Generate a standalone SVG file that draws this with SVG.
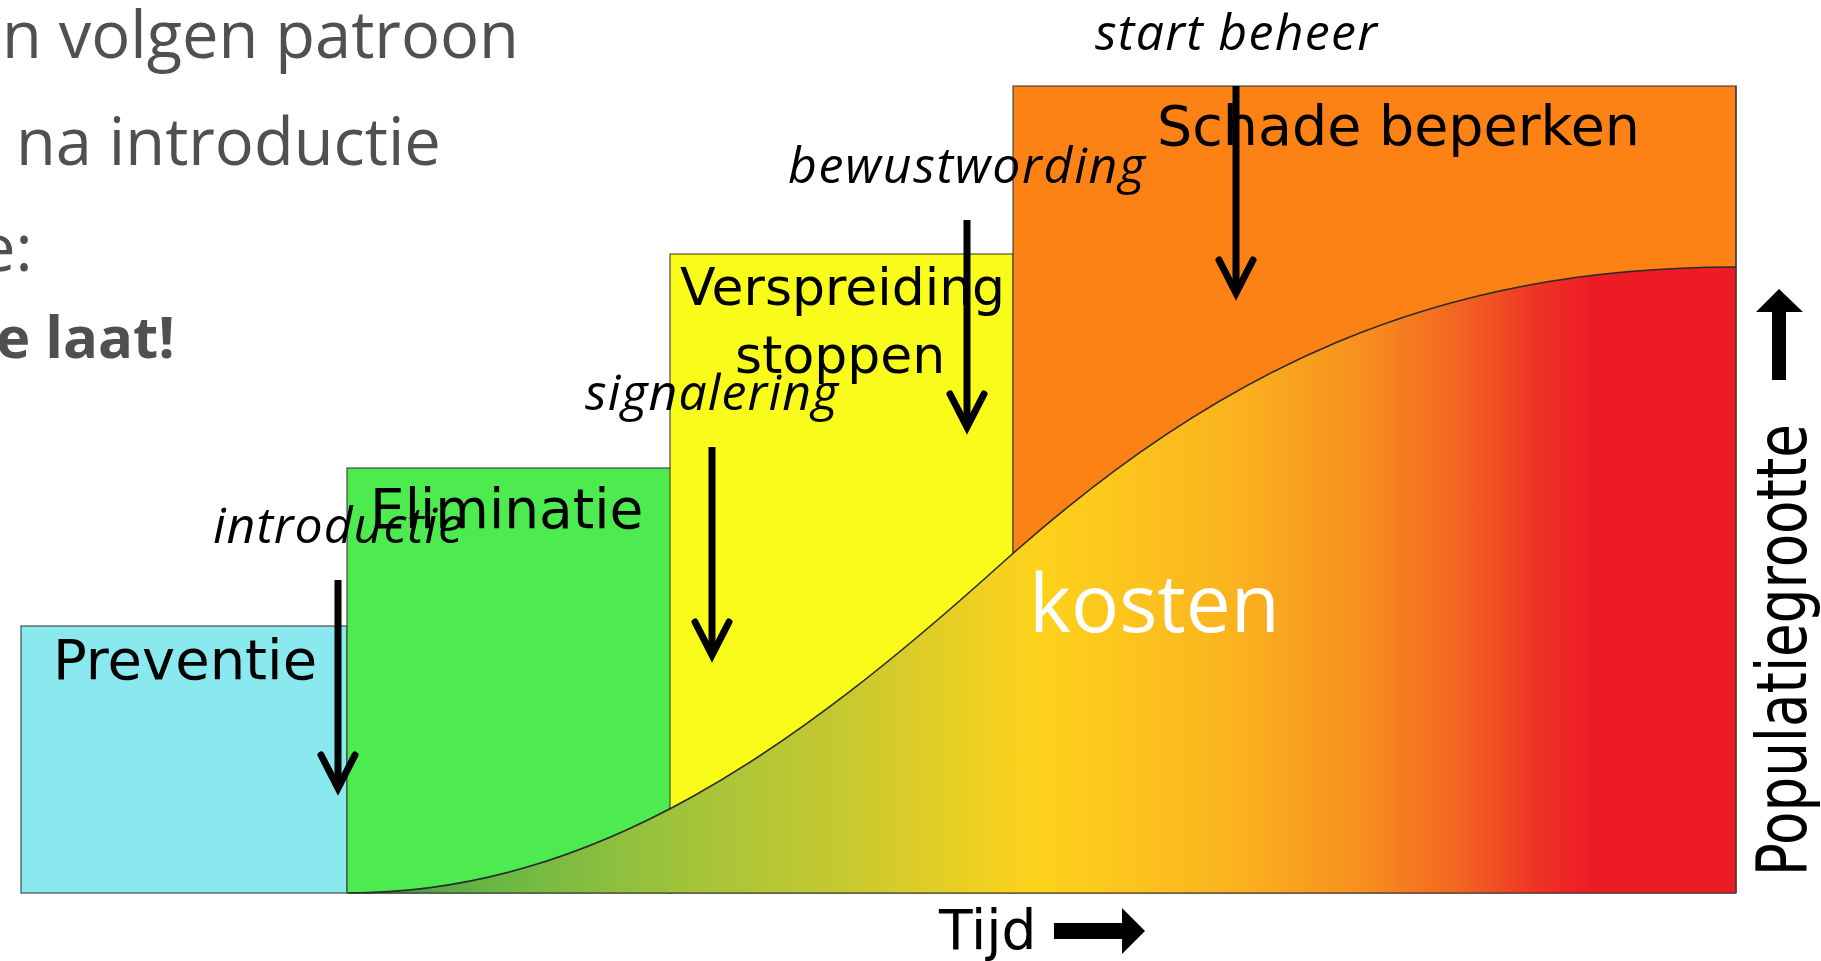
<svg xmlns="http://www.w3.org/2000/svg" width="1821" height="961" viewBox="0 0 1821 961">
  <defs>
    <linearGradient id="costGrad" gradientUnits="userSpaceOnUse" x1="348" y1="0" x2="1736" y2="0">
      <stop offset="0" stop-color="#35944a"/>
      <stop offset="0.11" stop-color="#6cb843"/>
      <stop offset="0.254" stop-color="#a6c43a"/>
      <stop offset="0.362" stop-color="#c8c92f"/>
      <stop offset="0.47" stop-color="#f5d11e"/>
      <stop offset="0.499" stop-color="#fdd21b"/>
      <stop offset="0.63" stop-color="#fbb51f"/>
      <stop offset="0.73" stop-color="#f7901e"/>
      <stop offset="0.80" stop-color="#f26522"/>
      <stop offset="0.855" stop-color="#ee3524"/>
      <stop offset="0.895" stop-color="#ed1c24"/>
      <stop offset="1" stop-color="#ed1c24"/>
    </linearGradient>
    <style>
      .box { stroke: #333333; stroke-opacity: 0.7; stroke-width: 1.5; }
      .boxlabel { font-family: "DejaVu Sans", "Liberation Sans", sans-serif; font-size: 52px; fill: #000000; }
      .event { font-family: "Open Sans", "Liberation Sans", sans-serif; font-style: italic; font-size: 50px; fill: #000000; }
      .slide { font-family: "Open Sans", "Liberation Sans", sans-serif; font-size: 65px; fill: #505050; }
      .shaft { stroke: #000000; stroke-width: 7; fill: none; }
      .head { stroke: #000000; stroke-width: 7; fill: none; stroke-linejoin: miter; stroke-linecap: round; stroke-miterlimit: 10; }
    </style>
  </defs>

  <g id="slide-text">
    <text class="slide" x="2" y="58">n volgen patroon</text>
    <text class="slide" x="16" y="165">na introductie</text>
    <text class="slide" x="-21" y="271">e:</text>
    <text class="slide" x="-4" y="358" style="font-size:58px;font-weight:bold">e laat!</text>
  </g>

  <g id="preventie">
    <rect class="box" x="21" y="626" width="326" height="267" fill="#8ae9ef"/>
  </g>
  <g id="eliminatie">
    <rect class="box" x="347" y="468" width="324" height="425" fill="#4deb50"/>
  </g>
  <g id="verspreiding">
    <rect class="box" x="670" y="254" width="343" height="639" fill="#f9fc1a"/>
  </g>
  <g id="schade">
    <rect class="box" x="1013" y="86" width="723" height="807" fill="#fc8215"/>
  </g>

  <g id="kosten">
    <path d="M 348 893 C 598 893 800 745 1000 565 C 1220 367 1436 267 1736 267 L 1736 893 Z" fill="url(#costGrad)"/>
    <path d="M 348 893 C 598 893 800 745 1000 565 C 1220 367 1436 267 1736 267" fill="none" stroke="#2a2a2a" stroke-width="1.6"/>
    <line x1="348" y1="893" x2="1736" y2="893" stroke="#333333" stroke-opacity="0.7" stroke-width="1.5"/>
    <line x1="1736" y1="86" x2="1736" y2="893" stroke="#333333" stroke-opacity="0.8" stroke-width="1.5"/>
  </g>

  <g id="labels">
    <text class="boxlabel" x="53" y="679" style="font-size:56px">Preventie</text>
    <text class="boxlabel" x="370" y="528" style="font-size:55px">Eliminatie</text>
    <text class="boxlabel" x="680" y="305">Verspreiding</text>
    <text class="boxlabel" x="735" y="373">stoppen</text>
    <text class="boxlabel" x="1157" y="145" style="font-size:55.5px">Schade beperken</text>
    <text x="1029" y="632" font-family="'Open Sans', 'Liberation Sans', sans-serif" font-size="80" fill="#ffffff">kosten</text>
  </g>

  <g id="axes">
    <text class="boxlabel" x="939" y="949" style="font-size:55px">Tijd</text>
    <path d="M 1054 923 L 1122 923 L 1122 908 L 1145 931 L 1122 954 L 1122 939 L 1054 939 Z" fill="#000000"/>
    <text class="boxlabel" textLength="452" lengthAdjust="spacingAndGlyphs" transform="translate(1806,876) rotate(-90) scale(1,1.3)" style="font-size:53px">Populatiegrootte</text>
    <path d="M 1772 380 L 1772 312 L 1756 312 L 1779 289 L 1803 312 L 1786 312 L 1786 380 Z" fill="#000000"/>
  </g>

  <g id="connectors">
    <g id="arrow-introductie">
      <line class="shaft" x1="338" y1="580" x2="338" y2="782"/>
      <polyline class="head" points="321,755 338,788 355,755"/>
    </g>
    <g id="arrow-signalering">
      <line class="shaft" x1="712" y1="447" x2="712" y2="649"/>
      <polyline class="head" points="695,622 712,655 729,622"/>
    </g>
    <g id="arrow-bewustwording">
      <line class="shaft" x1="967" y1="220" x2="967" y2="421"/>
      <polyline class="head" points="950,394 967,427 984,394"/>
    </g>
    <g id="arrow-startbeheer">
      <line class="shaft" x1="1236" y1="86" x2="1236" y2="287"/>
      <polyline class="head" points="1219,260 1236,293 1253,260"/>
    </g>
  </g>

  <g id="events">
    <text class="event" x="213" y="543" textLength="250">introductie</text>
    <text class="event" x="585" y="410" textLength="253">signalering</text>
    <text class="event" x="788" y="183" textLength="357">bewustwording</text>
    <text class="event" x="1095" y="50" textLength="282">start beheer</text>
  </g>
</svg>
